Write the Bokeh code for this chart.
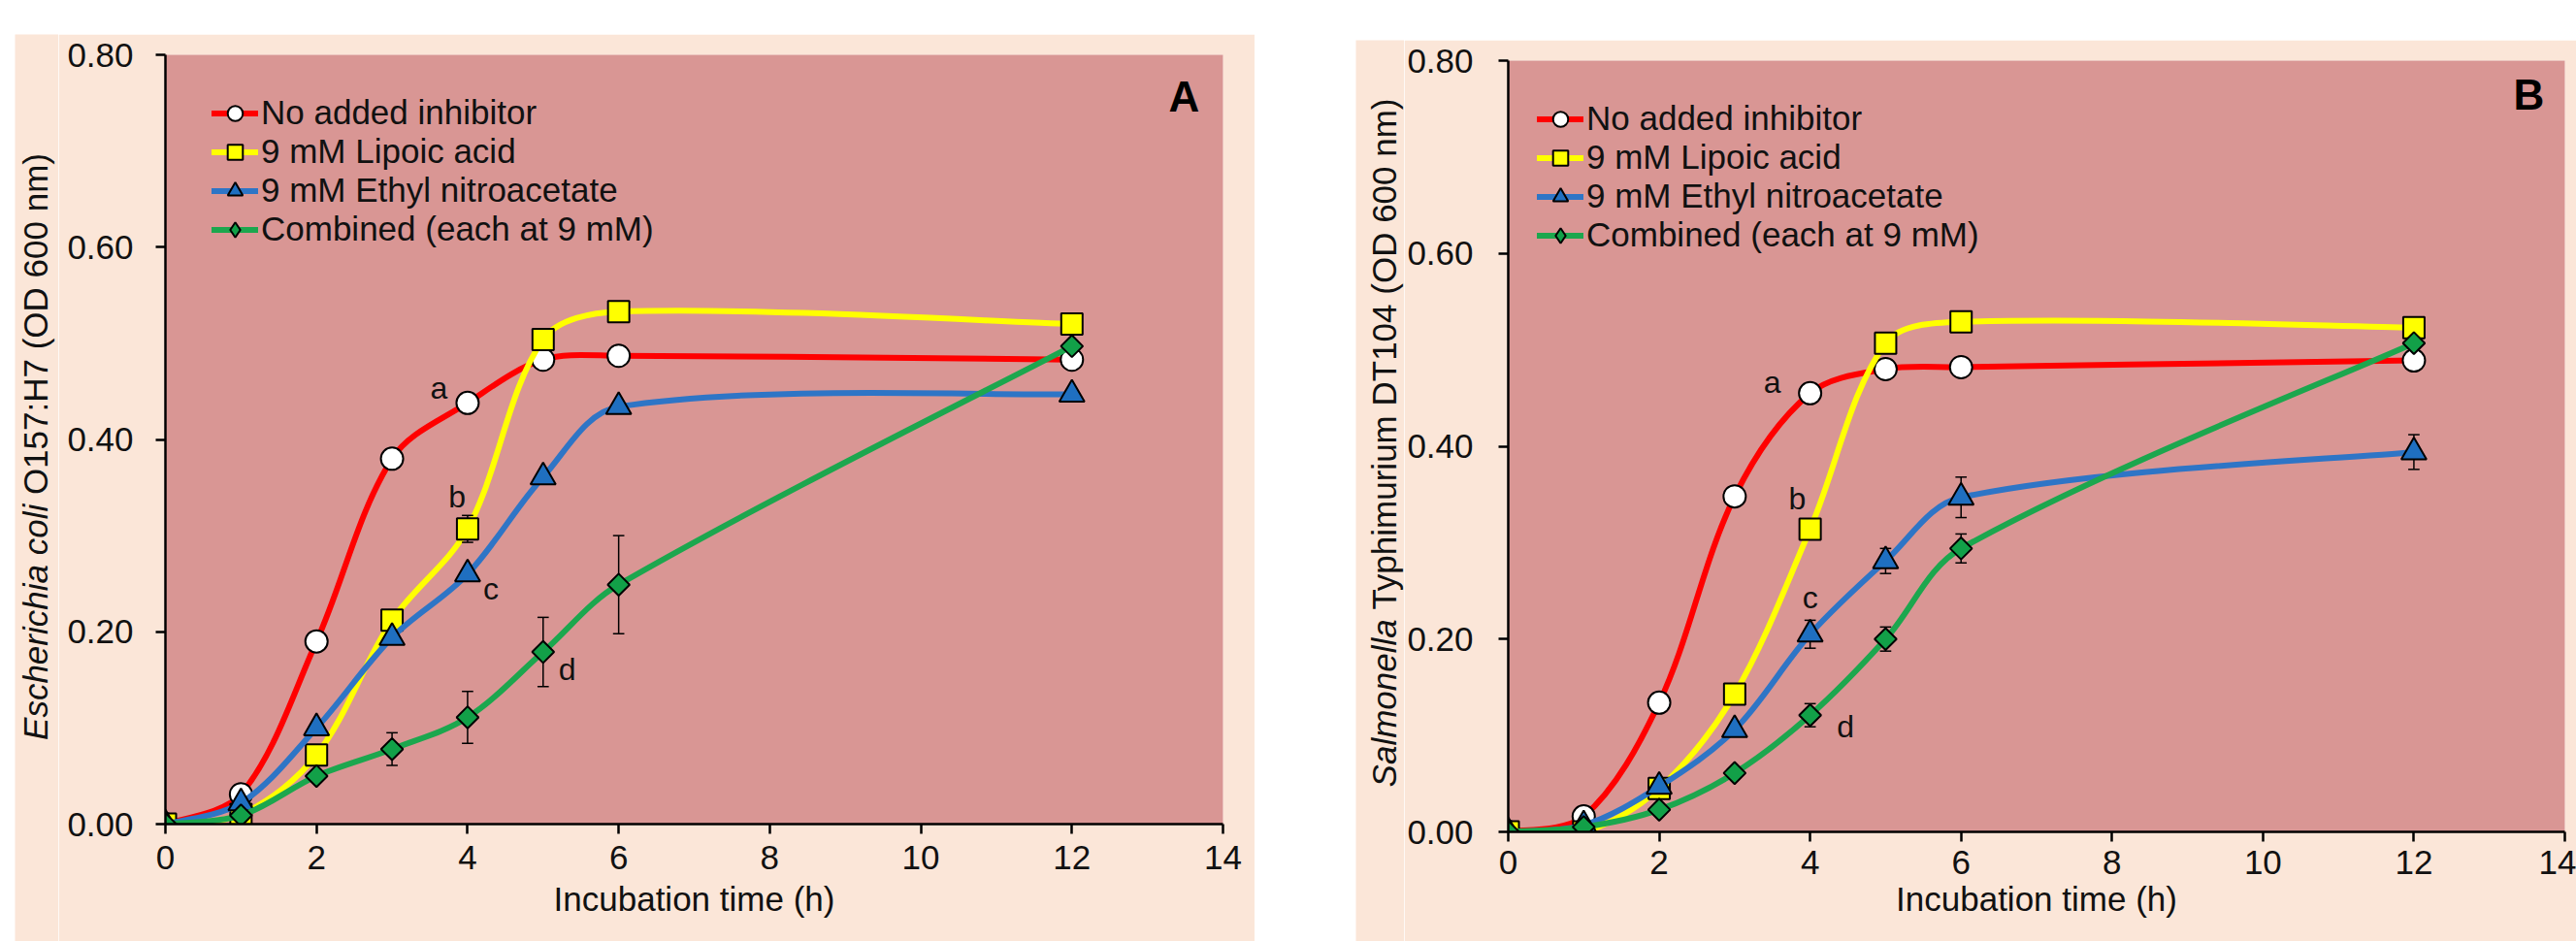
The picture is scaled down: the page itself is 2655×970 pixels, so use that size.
import numpy as np
from bokeh.plotting import figure
from bokeh.models import (ColumnDataSource, Legend, LegendItem, Label,
                          NumeralTickFormatter, FixedTicker, Range1d, Spacer)
from bokeh.layouts import row, column
from bokeh.embed import file_html
from bokeh.resources import INLINE
from bokeh.core.properties import value

# ---------------- data ----------------
hours = [0, 1, 2, 3, 4, 5, 6, 12]
series_names = ["No added inhibitor", "9 mM Lipoic acid",
                "9 mM Ethyl nitroacetate", "Combined (each at 9 mM)"]

# Panel A: Escherichia coli O157:H7
ecoli_control = [0.0, 0.031, 0.190, 0.380, 0.438, 0.483, 0.487, 0.483]
ecoli_lipoic = [0.0, 0.010, 0.072, 0.212, 0.307, 0.504, 0.533, 0.520]
ecoli_ena = [0.0, 0.022, 0.100, 0.194, 0.260, 0.361, 0.434, 0.447]
ecoli_comb = [0.0, 0.009, 0.050, 0.078, 0.111, 0.179, 0.249, 0.497]
ecoli_control_err = [0, 0, 0, 0, 0, 0, 0, 0]
ecoli_lipoic_err = [0, 0, 0, 0, 0.014, 0, 0, 0]
ecoli_ena_err = [0, 0, 0, 0, 0, 0, 0, 0]
ecoli_comb_err = [0, 0, 0, 0.017, 0.027, 0.036, 0.051, 0]

# Panel B: Salmonella Typhimurium DT104
salm_control = [0.0, 0.016, 0.134, 0.348, 0.455, 0.480, 0.482, 0.489]
salm_lipoic = [0.0, 0.0, 0.045, 0.143, 0.314, 0.507, 0.529, 0.523]
salm_ena = [0.0, 0.007, 0.047, 0.106, 0.205, 0.281, 0.347, 0.394]
salm_comb = [0.0, 0.005, 0.023, 0.061, 0.121, 0.200, 0.294, 0.507]
salm_control_err = [0, 0, 0, 0, 0, 0, 0, 0]
salm_lipoic_err = [0, 0, 0, 0, 0.005, 0, 0, 0]
salm_ena_err = [0, 0, 0, 0, 0.0145, 0.013, 0.021, 0.018]
salm_comb_err = [0, 0, 0, 0, 0.012, 0.0125, 0.015, 0]

sig_letters = ["a", "b", "c", "d"]
ecoli_letter_x = [3.62, 3.86, 4.31, 5.32]
ecoli_letter_y = [0.453, 0.340, 0.245, 0.161]
salm_letter_x = [3.50, 3.83, 4.00, 4.47]
salm_letter_y = [0.466, 0.346, 0.243, 0.109]

x_ticks = [0, 2, 4, 6, 8, 10, 12, 14]
y_ticks = [0.0, 0.2, 0.4, 0.6, 0.8]

# ---------------- style ----------------
PEACH = "#FBE6D8"
PINK = "#D99694"
FONT = "Liberation Sans"
TXT = "#111111"
FS = 35
LINE_COLORS = ["#FF0000", "#FFFF00", "#2E75C6", "#1CA74E"]
FILL_COLORS = ["#FFFFFF", "#FFFF00", "#1F6FC0", "#12A048"]
MARKERS = ["circle", "square", "triangle", "square"]
LEGEND_MARKERS = ["circle", "square", "triangle", "diamond"]
MARKER_SIZES = [23, 22, 26, 16]
MARKER_ANGLES = [0, 0, 0, np.pi / 4]
PX_X = 77.9    # approx screen px per hour (for smoothing shape only)
PX_Y = 991.0   # approx screen px per OD unit


def smooth_segments(xs, ys, s=1.0 / 3.0):
    """Bezier control points (Excel-like smoothed line) computed from the data."""
    X = np.asarray(xs, float) * PX_X
    Y = np.asarray(ys, float) * PX_Y
    n = len(X)
    P = np.column_stack([X, Y])
    d = np.hypot(np.diff(X), np.diff(Y))
    T = np.empty_like(P)
    T[0] = P[1] - P[0]
    T[-1] = P[-1] - P[-2]
    T[1:-1] = P[2:] - P[:-2]
    c0 = np.empty((n - 1, 2))
    c1 = np.empty((n - 1, 2))
    for i in range(n - 1):
        k0 = 0.5 * s if i == 0 else s * d[i] / (d[i - 1] + d[i])
        k1 = 0.5 * s if i + 1 == n - 1 else s * d[i] / (d[i] + d[i + 1])
        c0[i] = P[i] + T[i] * k0
        c1[i] = P[i + 1] - T[i + 1] * k1
    return dict(x0=X[:-1] / PX_X, y0=Y[:-1] / PX_Y, x1=X[1:] / PX_X, y1=Y[1:] / PX_Y,
                cx0=c0[:, 0] / PX_X, cy0=c0[:, 1] / PX_Y,
                cx1=c1[:, 0] / PX_X, cy1=c1[:, 1] / PX_Y)


def style_axis(ax, standoff):
    ax.axis_line_color = "black"
    ax.axis_line_width = 2.5
    ax.major_tick_line_color = "black"
    ax.major_tick_line_width = 2.5
    ax.major_tick_out = 10
    ax.major_tick_in = 0
    ax.minor_tick_line_color = None
    ax.major_label_text_font = FONT
    ax.major_label_text_font_size = f"{FS}px"
    ax.major_label_text_color = TXT
    ax.major_label_standoff = standoff


# Arial / Liberation Sans advance widths (em) for the characters used in titles
_W = {" ": .278, "(": .333, ")": .333, ":": .278, "0": .556, "1": .556, "4": .556,
      "5": .556, "6": .556, "7": .556, "A": .667, "C": .722, "D": .722, "E": .667,
      "H": .722, "O": .778, "S": .667, "T": .611, "a": .556, "b": .556, "c": .5,
      "d": .556, "e": .556, "h": .556, "i": .222, "l": .222, "m": .833, "n": .556,
      "o": .556, "p": .556, "r": .333, "s": .5, "t": .278, "u": .556, "y": .5}


def len_em(s):
    return sum(_W.get(ch, .556) for ch in s)


def build_title_strip(width, height, italic_part, rest_part, cx, y_start):
    """Narrow peach strip holding the rotated y-axis title (mixed italic / roman)."""
    t = figure(width=width, height=height, x_range=Range1d(0, 1), y_range=Range1d(0, 1),
               x_axis_type=None, y_axis_type=None, output_backend="svg",
               toolbar_location=None, min_border=0,
               background_fill_color=PEACH, border_fill_color=PEACH,
               outline_line_color=None)
    t.xgrid.visible = False
    t.ygrid.visible = False
    it_w = len_em(italic_part) * FS + 0.278 * FS
    t.add_layout(Label(x=cx, y=y_start, x_units="screen", y_units="screen",
                       text=italic_part, angle=np.pi / 2, text_font=FONT,
                       text_font_size=f"{FS}px", text_font_style="italic",
                       text_color=TXT, text_align="left", text_baseline="middle"))
    t.add_layout(Label(x=cx, y=y_start + it_w, x_units="screen", y_units="screen",
                       text=rest_part, angle=np.pi / 2, text_font=FONT,
                       text_font_size=f"{FS}px", text_color=TXT,
                       text_align="left", text_baseline="middle"))
    return t


def build_panel(cfg):
    p = figure(width=cfg["width"], height=cfg["height"],
               x_range=Range1d(0, 14), y_range=Range1d(0, 0.8),
               output_backend="svg", toolbar_location=None,
               min_border_left=cfg["mbl"], min_border_right=cfg["mbr"],
               min_border_top=cfg["mbt"], min_border_bottom=cfg["mbb"],
               background_fill_color=PINK, border_fill_color=PEACH,
               outline_line_color=None)
    p.xgrid.visible = False
    p.ygrid.visible = False

    xa = p.xaxis[0]
    style_axis(xa, cfg["x_standoff"])
    xa.ticker = FixedTicker(ticks=x_ticks)
    xa.axis_label = "Incubation time (h)"
    xa.axis_label_text_font = FONT
    xa.axis_label_text_font_size = f"{FS}px"
    xa.axis_label_text_font_style = "normal"
    xa.axis_label_text_color = TXT
    xa.axis_label_standoff = cfg["xl_standoff"]

    ya = p.yaxis[0]
    style_axis(ya, cfg["y_standoff"])
    ya.ticker = FixedTicker(ticks=y_ticks)
    ya.formatter = NumeralTickFormatter(format="0.00")

    items = []
    for i, (ys, err) in enumerate(zip(cfg["series"], cfg["errors"])):
        bez = p.bezier(source=ColumnDataSource(smooth_segments(hours, ys)),
                       x0="x0", y0="y0", x1="x1", y1="y1",
                       cx0="cx0", cy0="cy0", cx1="cx1", cy1="cy1",
                       line_color=LINE_COLORS[i], line_width=6, line_cap="round")
        idx = [k for k, e in enumerate(err) if e > 0]
        if idx:
            ex = [hours[k] for k in idx]
            lo = [ys[k] - err[k] for k in idx]
            hi = [ys[k] + err[k] for k in idx]
            cap = 0.075
            p.segment(x0=ex, y0=lo, x1=ex, y1=hi, line_color="black", line_width=1.5)
            p.segment(x0=[x - cap for x in ex], y0=hi, x1=[x + cap for x in ex], y1=hi,
                      line_color="black", line_width=1.5)
            p.segment(x0=[x - cap for x in ex], y0=lo, x1=[x + cap for x in ex], y1=lo,
                      line_color="black", line_width=1.5)
        sc = p.scatter(x=hours, y=ys, marker=MARKERS[i], size=MARKER_SIZES[i],
                       angle=MARKER_ANGLES[i], fill_color=FILL_COLORS[i],
                       line_color="black", line_width=2)
        if LEGEND_MARKERS[i] == MARKERS[i]:
            key = sc
        else:
            # legend-key marker only: a single NaN point is never drawn in the plot
            key = p.scatter(x=[np.nan], y=[np.nan], marker=LEGEND_MARKERS[i], size=16,
                            fill_color=FILL_COLORS[i], line_color="black", line_width=2)
        items.append(LegendItem(label=series_names[i], renderers=[bez, key]))

    legend = Legend(items=items, location=cfg["legend_loc"], orientation="vertical",
                    label_text_font=FONT, label_text_font_size=f"{FS}px",
                    label_text_color=TXT, glyph_width=48, glyph_height=39,
                    label_height=39, spacing=0, padding=0, margin=0,
                    label_standoff=3, background_fill_alpha=0,
                    border_line_color=None)
    p.add_layout(legend)

    p.text(x=cfg["letter_x"], y=cfg["letter_y"], text=sig_letters,
           text_font=value(FONT), text_font_size="32px", text_color=TXT,
           text_align="center", text_baseline="middle")

    tag, gx, gy = cfg["tag"]
    p.add_layout(Label(x=gx, y=gy, x_units="screen", y_units="screen", text=tag,
                       text_font=FONT, text_font_size="44px", text_font_style="bold",
                       text_color="black", text_align="center", text_baseline="middle"))
    return p


# Page (no body margin): panel A peach x 15..1293, y 35..970; panel B peach x 1397..2655, y 41..970
cfgA = dict(width=1233, height=935, mbl=110, mbr=33, mbt=21, mbb=121,
            x_standoff=12, xl_standoff=8, y_standoff=23,
            series=[ecoli_control, ecoli_lipoic, ecoli_ena, ecoli_comb],
            errors=[ecoli_control_err, ecoli_lipoic_err, ecoli_ena_err, ecoli_comb_err],
            legend_loc=(48, 593),
            letter_x=ecoli_letter_x, letter_y=ecoli_letter_y,
            tag=("A", 1050, 750))

cfgB = dict(width=1208, height=929, mbl=106, mbr=12, mbt=21, mbb=113,
            x_standoff=9, xl_standoff=3, y_standoff=26,
            series=[salm_control, salm_lipoic, salm_ena, salm_comb],
            errors=[salm_control_err, salm_lipoic_err, salm_ena_err, salm_comb_err],
            legend_loc=(30, 595),
            letter_x=salm_letter_x, letter_y=salm_letter_y,
            tag=("B", 1052, 760))

pA = build_panel(cfgA)
pB = build_panel(cfgB)

ytA_it, ytA_rest = "Escherichia coli", "O157:H7 (OD 600 nm)"
ytB_it, ytB_rest = "Salmonella", "Typhimurium DT104 (OD 600 nm)"
lenA = (len_em(ytA_it) + 0.278 + len_em(ytA_rest)) * FS
lenB = (len_em(ytB_it) + 0.278 + len_em(ytB_rest)) * FS
# strip bottoms are at page y=970; title centres at y≈460 (A) and y≈455 (B)
tA = build_title_strip(45, 935, ytA_it, ytA_rest, 21, (970 - 460) - lenA / 2)
tB = build_title_strip(50, 929, ytB_it, ytB_rest, 29, (970 - 455) - lenB / 2)

layout = row(Spacer(width=15, height=10),
             column(Spacer(width=45, height=35), tA),
             column(Spacer(width=1233, height=35), pA),
             Spacer(width=104, height=10),
             column(Spacer(width=50, height=41), tB),
             column(Spacer(width=1208, height=41), pB))

open("out.html", "w").write(file_html(layout, INLINE))
